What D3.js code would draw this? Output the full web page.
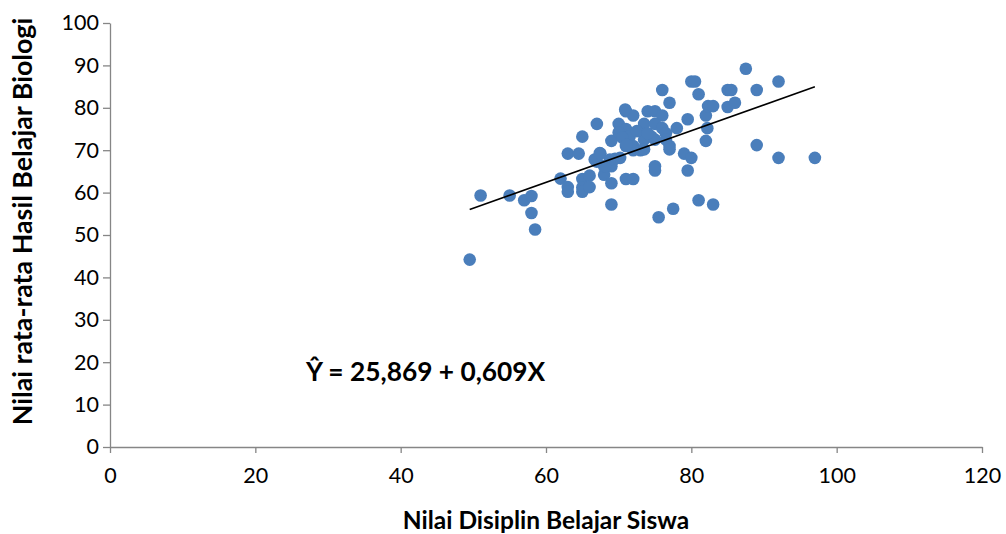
<!DOCTYPE html>
<html>
<head>
<meta charset="utf-8">
<script src="https://cdn.jsdelivr.net/npm/d3@7"></script>
<style>
body { margin: 0; background: #fff; }
svg { display: block; }
</style>
</head>
<body>
<svg id="chart" width="1006" height="534"></svg>
<script>
// Data
const disiplin = [49.5,51,55,57,58,58,58.5,62,63,63,63,64.5,65,65,65,65,66,66,67,67.5,67,68,68,69,69,69,69,70,70.2,71,72,71,72,71,71.5,72,70,70.5,69.5,73,73.5,74,75,76,73.5,75,76,78,76.5,74.5,75,76.5,77,77,71,72,73.5,72.5,74,79,80,75,75,79.5,76,77,79.5,80,80.5,81,82,82.3,83,82.2,82,85,85.5,85,86,87.5,89,89,92,92,97,81,83,77.5,75.5,66.7,67.4,68.8,71.1,70.9,68.1];
const hasil    = [44.2,59.3,59.3,58.2,59.2,55.2,51.3,63.3,69.2,61.3,60.2,69.2,73.2,63.2,61.2,60.2,64,61.3,76.2,69.2,67.3,66.2,64.2,66.2,62.2,57.2,72.2,76.2,68.2,79.2,78.2,63.2,63.2,75,73.2,71,74.2,73,68,70,72.5,79.2,79.2,78.2,76.2,76.2,75.2,75.2,74,73.2,72.5,72.5,71,70.2,71,70,70.2,74.5,74,69.2,68.2,66.2,65.2,65.2,84.2,81.2,77.3,86.2,86.2,83.2,78.2,80.4,80.4,75.2,72.2,84.2,84.2,80.2,81.2,89.2,84.2,71.2,86.2,68.2,68.2,58.2,57.2,56.2,54.2,67.8,69.3,67.8,71.3,79.6,66.2];
const xTicks = [0,20,40,60,80,100,120];
const yTicks = [0,10,20,30,40,50,60,70,80,90,100];
const intercept = 25.869;
const slope = 0.609;
const equationLabel = "Ŷ = 25,869 + 0,609X";
const xTitle = "Nilai Disiplin Belajar Siswa";
const yTitle = "Nilai rata-rata Hasil Belajar Biologi";

const svg = d3.select("#chart");
const x = d3.scaleLinear().domain([0,120]).range([110,982]);
const y = d3.scaleLinear().domain([0,100]).range([447,23]);
const axisColor = "#868686";
const font = "Lato, 'Open Sans', sans-serif";

// X axis
const gx = svg.append("g").attr("transform", `translate(0,${y(0)})`)
  .call(d3.axisBottom(x).tickValues(xTicks).tickSize(6).tickPadding(15).tickSizeOuter(0));
gx.select(".domain").attr("stroke", axisColor).attr("stroke-width", 1.3);
gx.selectAll(".tick line").attr("stroke", axisColor).attr("stroke-width", 1.3);
gx.selectAll(".tick text").attr("font-family", font).attr("font-size", 21.5).attr("fill", "#000");

// Y axis
const gy = svg.append("g").attr("transform", `translate(${x(0)},0)`)
  .call(d3.axisLeft(y).tickValues(yTicks).tickSize(7).tickPadding(4).tickSizeOuter(0));
gy.select(".domain").attr("stroke", axisColor).attr("stroke-width", 1.3);
gy.selectAll(".tick line").attr("stroke", axisColor).attr("stroke-width", 1.3);
gy.selectAll(".tick text").attr("font-family", font).attr("font-size", 21.5).attr("fill", "#000");

// Points
const pts = disiplin.map((d,i) => ({x: d, y: hasil[i]}));
svg.append("g").selectAll("circle").data(pts).join("circle")
  .attr("cx", d => x(d.x)).attr("cy", d => y(d.y)).attr("r", 6.3)
  .attr("fill", "#4a7ebb");

// Regression line
const ext = d3.extent(disiplin);
svg.append("line")
  .attr("x1", x(ext[0])).attr("y1", y(intercept + slope*ext[0]))
  .attr("x2", x(ext[1])).attr("y2", y(intercept + slope*ext[1]))
  .attr("stroke", "#000").attr("stroke-width", 1.6);

// Equation
svg.append("text").attr("x", 306).attr("y", 381)
  .attr("font-family", font).attr("font-weight", "bold").attr("font-size", 26.3)
  .text(equationLabel);

// Axis titles
svg.append("text").attr("x", 546).attr("y", 529).attr("text-anchor", "middle")
  .attr("font-family", font).attr("font-weight", "bold").attr("font-size", 24.5)
  .text(xTitle);
svg.append("text").attr("transform", `translate(32,221.5) rotate(-90)`)
  .attr("text-anchor", "middle")
  .attr("font-family", font).attr("font-weight", "bold").attr("font-size", 26.8)
  .text(yTitle);
</script>
</body>
</html>
